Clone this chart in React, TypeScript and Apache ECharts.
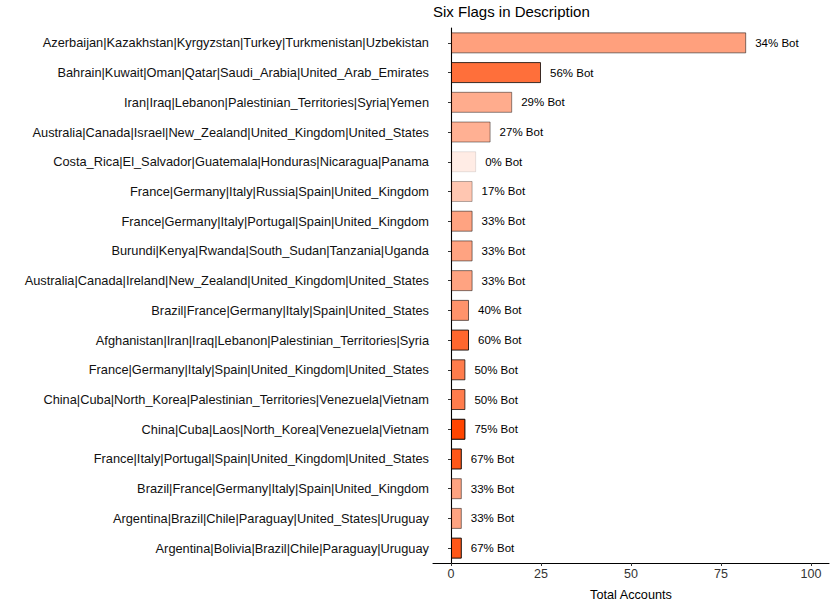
import React, { useEffect, useRef } from "react";
import * as echarts from "echarts";

const categories = [
  "Azerbaijan|Kazakhstan|Kyrgyzstan|Turkey|Turkmenistan|Uzbekistan",
  "Bahrain|Kuwait|Oman|Qatar|Saudi_Arabia|United_Arab_Emirates",
  "Iran|Iraq|Lebanon|Palestinian_Territories|Syria|Yemen",
  "Australia|Canada|Israel|New_Zealand|United_Kingdom|United_States",
  "Costa_Rica|El_Salvador|Guatemala|Honduras|Nicaragua|Panama",
  "France|Germany|Italy|Russia|Spain|United_Kingdom",
  "France|Germany|Italy|Portugal|Spain|United_Kingdom",
  "Burundi|Kenya|Rwanda|South_Sudan|Tanzania|Uganda",
  "Australia|Canada|Ireland|New_Zealand|United_Kingdom|United_States",
  "Brazil|France|Germany|Italy|Spain|United_States",
  "Afghanistan|Iran|Iraq|Lebanon|Palestinian_Territories|Syria",
  "France|Germany|Italy|Spain|United_Kingdom|United_States",
  "China|Cuba|North_Korea|Palestinian_Territories|Venezuela|Vietnam",
  "China|Cuba|Laos|North_Korea|Venezuela|Vietnam",
  "France|Italy|Portugal|Spain|United_Kingdom|United_States",
  "Brazil|France|Germany|Italy|Spain|United_Kingdom",
  "Argentina|Brazil|Chile|Paraguay|United_States|Uruguay",
  "Argentina|Bolivia|Brazil|Chile|Paraguay|Uruguay",
];

const totalAccounts = [82, 25, 17, 11, 7, 6, 6, 6, 6, 5, 5, 4, 4, 4, 3, 3, 3, 3];
const botPercent = [34, 56, 29, 27, 0, 17, 33, 33, 33, 40, 60, 50, 50, 75, 67, 33, 33, 67];

const xTicks = [0, 25, 50, 75, 100];

const FONT = "Liberation Sans, Arial, Helvetica, sans-serif";

export default function App() {
  const ref = useRef<HTMLDivElement>(null);

  useEffect(() => {
    document.body.style.margin = "0";
    if (!ref.current) return;
    const chart = echarts.init(ref.current, undefined, { renderer: "svg" });
    const maxPct = Math.max(...botPercent);
    const data = totalAccounts.map((v, i) => {
      const a = 0.1 + 0.9 * (botPercent[i] / maxPct);
      return {
        value: v,
        itemStyle: {
          color: `rgba(255,69,0,${a.toFixed(3)})`,
          borderColor: `rgba(0,0,0,${a.toFixed(3)})`,
          borderWidth: 1,
        },
      };
    });

    chart.setOption({
      animation: false,
      backgroundColor: "#ffffff",
      textStyle: { fontFamily: FONT },
      title: {
        text: "Six Flags in Description",
        left: 433,
        top: 4,
        padding: 0,
        textStyle: { fontFamily: FONT, fontSize: 15, fontWeight: "normal", color: "#000000" },
      },
      grid: { left: 433, right: 1, top: 28, bottom: 39, containLabel: false },
      xAxis: {
        type: "value",
        min: -5,
        max: 105,
        name: "Total Accounts",
        nameLocation: "middle",
        nameGap: 25,
        nameTextStyle: { fontFamily: FONT, fontSize: 12.7, color: "#000000" },
        axisLine: { show: true, lineStyle: { color: "#000000", width: 1.1 } },
        axisTick: { show: true, length: 3, customValues: xTicks, lineStyle: { color: "#333333" } },
        axisLabel: {
          customValues: xTicks,
          fontFamily: FONT,
          fontSize: 12.5,
          color: "#333333",
          margin: 4,
        },
        splitLine: { show: false },
      },
      yAxis: {
        type: "category",
        inverse: true,
        data: categories,
        axisLine: { show: true, lineStyle: { color: "#000000", width: 1.1 } },
        axisTick: { show: true, length: 3, alignWithLabel: true, lineStyle: { color: "#333333" } },
        axisLabel: { fontFamily: FONT, fontSize: 12.8, color: "#111111", margin: 4 },
        splitLine: { show: false },
      },
      series: [
        {
          type: "bar",
          data,
          barWidth: 21,
          label: {
            show: true,
            position: "right",
            distance: 9,
            fontFamily: FONT,
            fontSize: 11.5,
            color: "#000000",
            formatter: (p: any) => `${botPercent[p.dataIndex]}% Bot`,
          },
        },
      ],
    });
    return () => chart.dispose();
  }, []);

  return <div ref={ref} style={{ width: 830, height: 606 }} />;
}
